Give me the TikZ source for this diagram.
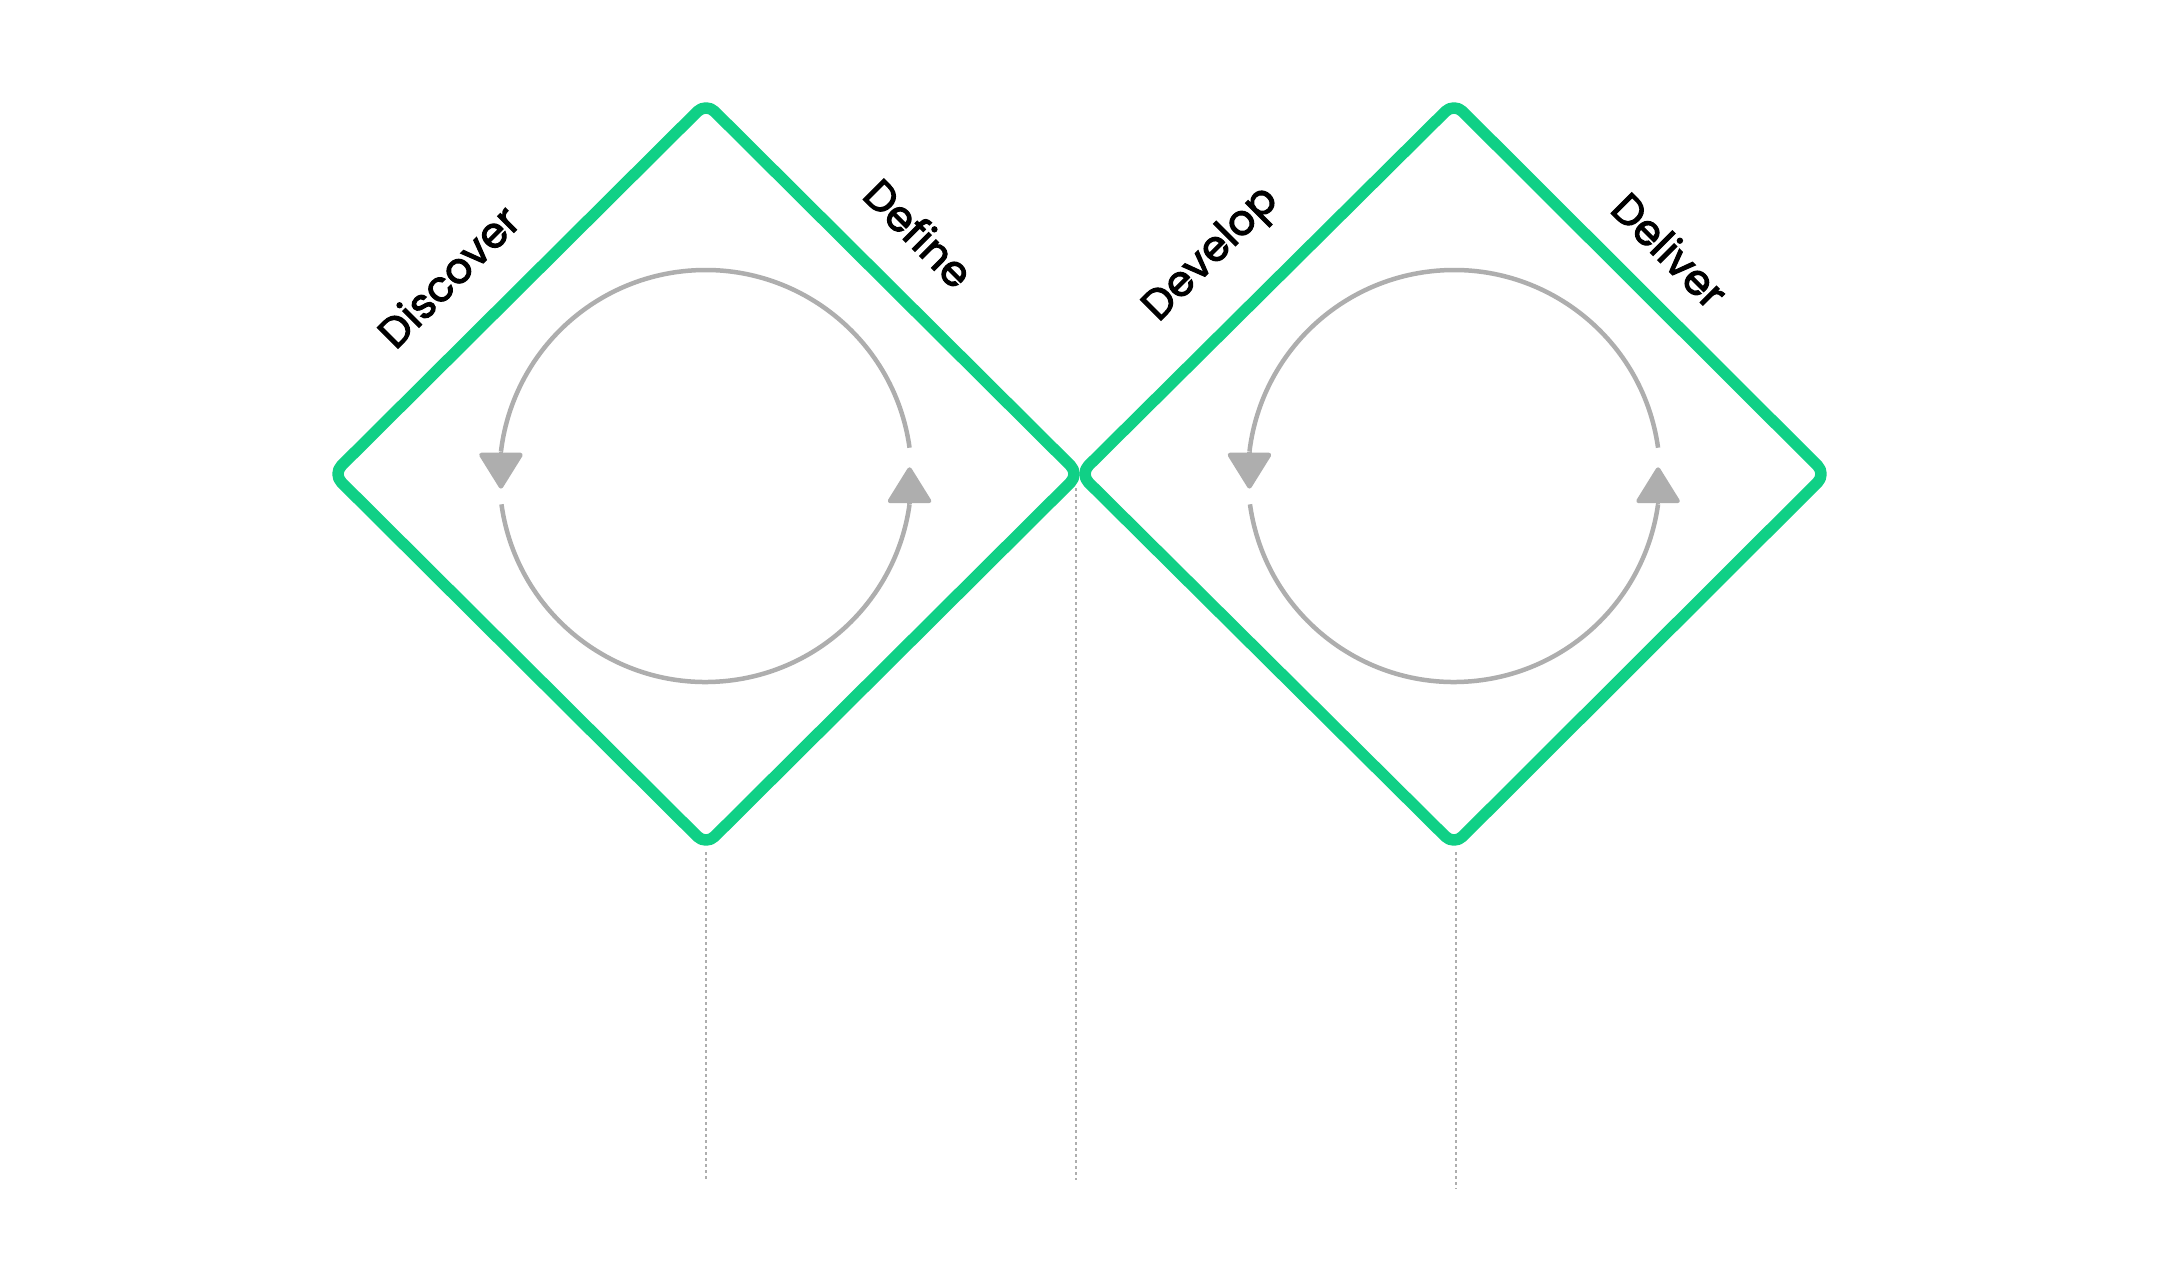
\documentclass[tikz,border=0pt]{standalone}
\usepackage{fontspec}
\setmainfont{Poppins}
\newfontfamily\phasefont{Poppins}[FakeBold=2.6]
\usetikzlibrary{arrows.meta}
\definecolor{dgreen}{RGB}{16,208,134}
\definecolor{cgray}{RGB}{174,174,174}
\begin{document}
\begin{tikzpicture}[x=1pt,y=-1pt,
  diamondline/.style={draw=dgreen,line width=11.5pt,rounded corners=12pt,line join=round},
  loopline/.style={draw=cgray,line width=4.5pt},
  looptip/.style={draw=cgray,fill=cgray,line width=4.5pt,-{Triangle[width=46pt,length=38pt,round]}},
  guide/.style={draw=cgray,line width=2pt,dash pattern=on 2.5pt off 3.5pt},
  phase/.style={font=\phasefont\fontsize{42}{50}\selectfont,inner sep=0pt}]
\useasboundingbox (0,0) rectangle (2160,1277);
\fill[white] (0,0) rectangle (2160,1277);
% left diamond
\coordinate (lt) at (706,103);
\coordinate (lr) at (1079,474);
\coordinate (lb) at (706,845);
\coordinate (ll) at (333,474);
% right diamond
\coordinate (rt) at (1454,103);
\coordinate (rr) at (1826,474);
\coordinate (rb) at (1454,845);
\coordinate (rl) at (1080,474);
\draw[diamondline] (lt) -- (lr) -- (lb) -- (ll) -- cycle;
\draw[diamondline] (rt) -- (rr) -- (rb) -- (rl) -- cycle;
% loops
\foreach \c/\n in {705.5/l,1454/r}{
  \coordinate (\n c) at (\c,476);
  \coordinate (\n ua) at ([shift={(-7.9:206)}]\n c);
  \coordinate (\n ub) at ([shift={(-173.2:206)}]\n c);
  \coordinate (\n ut) at ([shift={(0,37)}]\n ub);
  \coordinate (\n da) at ([shift={(172.1:206)}]\n c);
  \coordinate (\n db) at ([shift={(7.9:206)}]\n c);
  \coordinate (\n dt) at ([shift={(0,-37)}]\n db);
  \draw[loopline] (\n ua) arc[start angle=-7.9,end angle=-173.2,radius=206];
  \draw[loopline] (\n da) arc[start angle=172.1,end angle=7.9,radius=206];
  \draw[looptip] (\n ub) -- (\n ut);
  \draw[looptip] (\n db) -- (\n dt);
}
% guide lines
\coordinate (g1a) at (706,852);
\coordinate (g1b) at (706,1180);
\coordinate (g2a) at (1076,488);
\coordinate (g2b) at (1076,1180);
\coordinate (g3a) at (1456,852);
\coordinate (g3b) at (1456,1189);
\draw[guide] (g1a) -- (g1b);
\draw[guide] (g2a) -- (g2b);
\draw[guide] (g3a) -- (g3b);
% labels
\node[phase,rotate=45] (discover) at (448,276) {Discover};
\node[phase,rotate=-45] (define) at (919,233) {Define};
\node[phase,rotate=45] (develop) at (1212,255) {Develop};
\node[phase,rotate=-45] (deliver) at (1670,250) {Deliver};
\end{tikzpicture}
\end{document}
